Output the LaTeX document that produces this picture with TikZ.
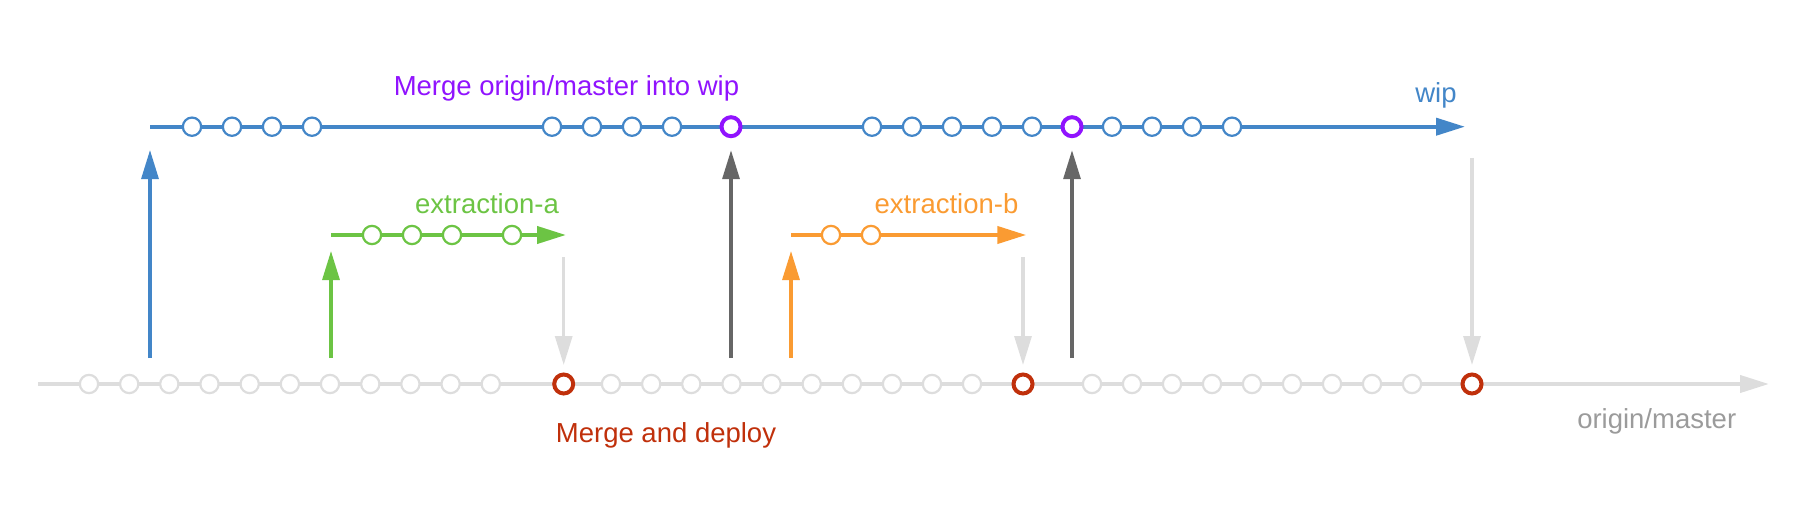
\documentclass[tikz,border=0pt]{standalone}
\usepackage{fontspec}
\setmainfont{Liberation Sans}
\usetikzlibrary{arrows.meta}
\definecolor{wipblue}{HTML}{4386C8}
\definecolor{mergepurple}{HTML}{9013FE}
\definecolor{extgreen}{HTML}{6CC444}
\definecolor{extorange}{HTML}{FA9B32}
\definecolor{deployred}{HTML}{C0300B}
\definecolor{mastergray}{HTML}{DDDDDD}
\definecolor{labelgray}{HTML}{9B9B9B}
\definecolor{darkgray}{HTML}{666666}

\tikzset{
	commit/.style={circle, draw=#1, fill=white, line width=2.2pt, minimum size=18.3pt, inner sep=0pt},
	merge/.style={circle, draw=#1, fill=white, line width=4pt, minimum size=19pt, inner sep=0pt},
	branch/.style={line width=4pt, color=#1, -{Triangle[length=29pt,width=17pt]}},
	pointer/.style={line width=3.2pt, color=#1, -{Triangle[length=29pt,width=17pt]}},
	lbl/.style={text=#1, anchor=base, inner sep=0pt, font=\fontsize{27.5}{32}\selectfont}
}

\begin{document}
\begin{tikzpicture}[x=1pt, y=-1pt]
	\useasboundingbox (0,0) rectangle (1806,516);

	\coordinate (wipstart) at (150,126.7);
	\coordinate (wipend) at (1465,126.7);
	\coordinate (astart) at (331,235);
	\coordinate (aend) at (566,235);
	\coordinate (bstart) at (791,235);
	\coordinate (bend) at (1026.3,235);
	\coordinate (mstart) at (38,384);
	\coordinate (mend) at (1769,384);

	\draw[branch=mastergray] (mstart) -- (mend);
	\draw[branch=wipblue] (wipstart) -- (wipend);
	\draw[branch=extgreen] (astart) -- (aend);
	\draw[branch=extorange] (bstart) -- (bend);

	\foreach \x [count=\i] in {89,129.2,169.3,209.5,249.7,289.9,330,370.3,410.4,450.6,490.8,
		611,651.2,691.3,731.5,771.6,811.7,851.9,892,932,972,
		1092,1132,1172,1212,1252,1292,1332,1372,1412}
		\node[commit=mastergray] (m\i) at (\x,384) {};
	\node[merge=deployred] (d1) at (563.7,384) {};
	\node[merge=deployred] (d2) at (1023,384) {};
	\node[merge=deployred] (d3) at (1472,384) {};

	\foreach \x [count=\i] in {192,232,272,312,552,592,632,672,872,912,952,992,1032,1112,1152,1192,1232}
		\node[commit=wipblue] (w\i) at (\x,126.7) {};
	\node[merge=mergepurple] (wm1) at (731,126.7) {};
	\node[merge=mergepurple] (wm2) at (1072,126.7) {};

	\foreach \x [count=\i] in {372,412,452,512}
		\node[commit=extgreen] (a\i) at (\x,235) {};
	\foreach \x [count=\i] in {831,871}
		\node[commit=extorange] (b\i) at (\x,235) {};

	\coordinate (up1) at (150,358);
	\coordinate (up2) at (331,358);
	\coordinate (up3) at (731,358);
	\coordinate (up4) at (791,358);
	\coordinate (up5) at (1072,358);
	\coordinate (dn1) at (563.7,257);
	\coordinate (dn2) at (1023,257);
	\coordinate (dn3) at (1472,157.5);

	\draw[pointer=wipblue, shorten >=23.3pt] (up1) -- (wipstart);
	\draw[pointer=extgreen, shorten >=16pt] (up2) -- (astart);
	\draw[pointer=darkgray, shorten >=12pt] (up3) -- (wm1);
	\draw[pointer=extorange, shorten >=16pt] (up4) -- (bstart);
	\draw[pointer=darkgray, shorten >=12pt] (up5) -- (wm2);
	\draw[pointer=mastergray, shorten >=7.5pt] (dn1) -- (d1);
	\draw[pointer=mastergray, shorten >=7.5pt] (dn2) -- (d2);
	\draw[pointer=mastergray, shorten >=7.5pt] (dn3) -- (d3);

	\node[lbl=mergepurple] (mergelabel) at (566.5,96) {Merge origin/master into wip};
	\node[lbl=wipblue] (wiplabel) at (1436,103) {wip};
	\node[lbl=extgreen] (alabel) at (487,213) {extraction-a};
	\node[lbl=extorange] (blabel) at (946.5,213) {extraction-b};
	\node[lbl=deployred] (deploylabel) at (666,442) {Merge and deploy};
	\node[lbl=labelgray] (masterlabel) at (1656.7,428) {origin/master};
\end{tikzpicture}
\end{document}
